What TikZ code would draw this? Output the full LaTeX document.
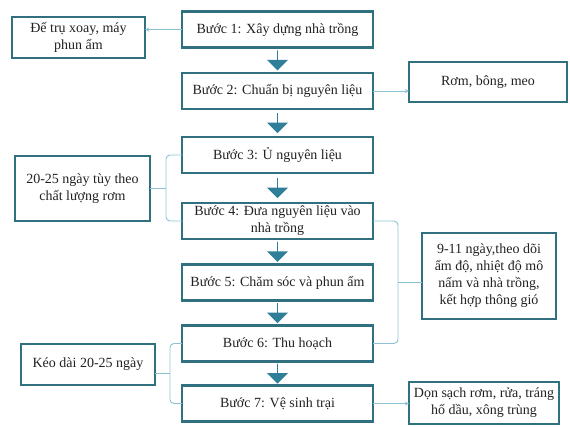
\documentclass[tikz,border=0pt]{standalone}
\usepackage{fontspec}
\setmainfont{Liberation Serif}
\usepackage{tikz}
\usetikzlibrary{arrows,shapes.arrows}

\begin{document}
\begin{tikzpicture}[x=1pt, y=-1pt,
    %Option for nice arrows
    >=stealth, %
    inner sep=0pt, outer sep=0pt,%
    font=\fontsize{14}{17}\selectfont,
    stepbox/.style={draw=boxline, line width=2.3pt, fill=white, text=textgray,
        minimum width=191pt, minimum height=36pt, align=center},
    notebox/.style={draw=boxline, line width=2.3pt, fill=white, text=textgray,
        align=center},
    link/.style={draw=linkblue, line width=0.9pt, rounded corners=4pt},
    fatarrow/.style={single arrow, fill=arrowblue, shape border rotate=270,
        minimum width=21pt, minimum height=20pt, single arrow head extend=5pt},
]
    % Colors
    \definecolor{boxline}{HTML}{31707E}
    \definecolor{arrowblue}{HTML}{2F7F99}
    \definecolor{linkblue}{HTML}{8CC3D4}
    \definecolor{textgray}{HTML}{222222}

    % Frame
    \useasboundingbox (0,0) rectangle (570,426);

    % Steps
    \node[stepbox] (b1) at (277.5, 29.5) {Bước 1: Xây dựng nhà trồng};
    \node[stepbox] (b2) at (277.5, 91) {Bước 2: Chuẩn bị nguyên liệu};
    \node[stepbox] (b3) at (277.5, 155) {Bước 3: Ủ nguyên liệu};
    \node[stepbox] (b4) at (277.5, 221) {Bước 4: Đưa nguyên liệu vào\\nhà trồng};
    \node[stepbox] (b5) at (277.5, 282.5) {Bước 5: Chăm sóc và phun ẩm};
    \node[stepbox] (b6) at (277.5, 343.5) {Bước 6: Thu hoạch};
    \node[stepbox] (b7) at (277.5, 403.5) {Bước 7: Vệ sinh trại};

    % Notes
    \node[notebox, minimum width=133pt, minimum height=41pt] (de) at (78.5, 37.5) {Đế trụ xoay, máy\\phun ẩm};
    \node[notebox, minimum width=158pt, minimum height=40pt] (rom) at (488, 82) {Rơm, bông, meo};
    \node[notebox, minimum width=135pt, minimum height=65pt] (t2025) at (82.5, 188.5) {20-25 ngày tùy theo\\chất lượng rơm};
    \node[notebox, minimum width=134pt, minimum height=86pt] (t911) at (489, 276) {9-11 ngày,theo dõi\\ẩm độ, nhiệt độ mô\\nấm và nhà trồng,\\kết hợp thông gió};
    \node[notebox, minimum width=134pt, minimum height=41pt] (keo) at (88, 364.5) {Kéo dài 20-25 ngày};
    \node[notebox, minimum width=150pt, minimum height=42pt] (don) at (484, 403) {Dọn sạch rơm, rửa, tráng\\hố dầu, xông trùng};

    % Flow
    \foreach \a/\b in {b1/b2, b2/b3, b3/b4, b4/b5, b5/b6, b6/b7}
        \path (\a.south) -- node[fatarrow] {} (\b.north);

    % Links
    \draw[link,->] (b1.west) -- (b1.west -| de.east);
    \draw[link,->] (b2.east) -- (b2.east -| rom.west);
    \draw[link,->] (b7.east) -- (b7.east -| don.west);

    % Braces
    \coordinate (br1) at (166, 188);
    \draw[link] (b3.west) -| (br1) |- (b4.west);
    \draw[link] (br1) -- (br1 -| t2025.east);
    \coordinate (br2) at (398, 282);
    \draw[link] (b4.east) -| (br2) |- (b6.east);
    \draw[link] (br2) -- (br2 -| t911.west);
    \coordinate (br3) at (170, 373.5);
    \draw[link] (b6.west) -| (br3) |- (b7.west);
    \draw[link] (br3) -- (br3 -| keo.east);

\end{tikzpicture}
\end{document}
